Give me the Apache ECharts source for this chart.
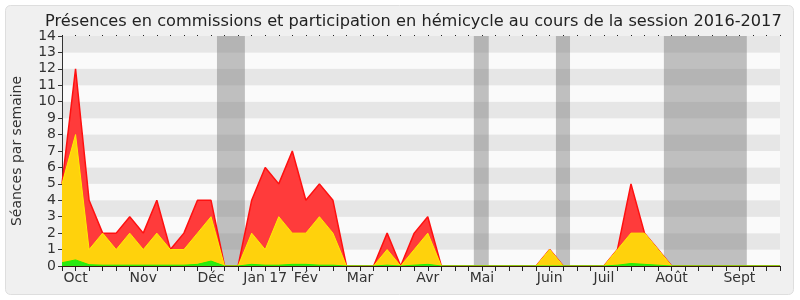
<!DOCTYPE html>
<html><head><meta charset="utf-8">
<script src="https://cdn.jsdelivr.net/npm/echarts@6/dist/echarts.min.js"></script>
<style>html,body{margin:0;padding:0;background:#fff}#c{width:800px;height:300px}</style>
</head><body><div id="c"></div>
<script>
// week index 0..53 (late Sept 2016 -> end Sept 2017)
const weeks = Array.from({length: 54}, (_, i) => i);
// cumulative levels
const totalTop = [5,12,4,2,2,3,2,4,1,2,4,4,0,0,4,6,5,7,4,5,4,0,0,0,2,0,2,3,0,0,0,0,0,0,0,0,1,0,0,0,0,1,5,2,1,0,0,0,0,0,0,0,0,0];
const yellowTop = [5,8,1,2,1,2,1,2,1,1,2,3,0,0,2,1,3,2,2,3,2,0,0,0,1,0,1,2,0,0,0,0,0,0,0,0,1,0,0,0,0,1,2,2,1,0,0,0,0,0,0,0,0,0];
const greenTop = [0.2,0.37,0.08,0.05,0.05,0.05,0.05,0.05,0.05,0.05,0.1,0.3,0,0,0.1,0.05,0.05,0.1,0.1,0.05,0.05,0,0,0,0.05,0,0.05,0.1,0,0,0,0,0,0,0,0,0,0,0,0,0,0.05,0.15,0.1,0.05,0,0,0,0,0,0,0,0,0];
// month tick labels at week positions
const monthPos = [1,6,11,15,18,22,27,31,36,40,45,50];
const monthNames = ['Oct','Nov','Déc','Jan 17','Fév','Mar','Avr','Mai','Juin','Juil','Août','Sept'];
// holiday bands (week positions)
const holidays = [[11.44,13.5],[30.4,31.5],[36.46,37.5],[44.43,50.55]];

const FONT = 'DejaVu Sans';
const chart = echarts.init(document.getElementById('c'), null, {renderer: 'canvas'});
const mk = (arr) => weeks.map(i => [i, arr[i]]);
chart.setOption({
  animation: false,
  backgroundColor: '#fff',
  graphic: [{type: 'rect', shape: {x: 5.5, y: 5.5, width: 788, height: 289, r: 5},
    style: {fill: '#f0f0f0', stroke: '#dedede', lineWidth: 1}, z: -10}],
  title: {text: 'Présences en commissions et participation en hémicycle au cours de la session 2016-2017',
    left: 40, top: 9,
    textStyle: {fontFamily: FONT, fontSize: 16.2, fontWeight: 'normal', color: '#222'}},
  grid: {left: 62, right: 20, top: 36, bottom: 34, containLabel: false},
  xAxis: [{
    type: 'value', min: 0, max: 53, interval: 1, z: 5,
    axisLine: {show: true, lineStyle: {color: '#3a1a10', width: 1}},
    axisTick: {show: true, length: 5, lineStyle: {color: '#222'}},
    axisLabel: {customValues: monthPos, fontFamily: FONT, fontSize: 14, color: '#333', margin: 5,
      formatter: v => { const k = monthPos.indexOf(v); return k >= 0 ? monthNames[k] : ''; }},
    splitLine: {show: false}
  }, {
    type: 'value', position: 'top', min: 0, max: 53, interval: 1,
    axisLine: {show: false},
    axisTick: {show: true, length: 1, lineStyle: {color: '#222'}},
    axisLabel: {show: false}, splitLine: {show: false}
  }],
  yAxis: {
    type: 'value', min: 0, max: 14, interval: 1,
    name: 'Séances par semaine', nameLocation: 'middle', nameGap: 38,
    nameTextStyle: {fontFamily: FONT, fontSize: 14, color: '#333'},
    axisLine: {show: true, lineStyle: {color: '#333'}},
    axisTick: {show: true, length: 4, lineStyle: {color: '#333'}},
    axisLabel: {fontFamily: FONT, fontSize: 14, color: '#333', margin: 6},
    splitLine: {show: false},
    splitArea: {show: true, areaStyle: {color: ['#fafafa', '#e6e6e6']}}
  },
  series: [{
    type: 'line', name: 'total', data: mk(totalTop), symbol: 'none', z: 2,
    lineStyle: {color: '#ff1010', width: 1.5}, areaStyle: {color: '#ff3b3b', opacity: 1},
    markArea: {silent: true, itemStyle: {color: 'rgba(120,120,120,0.45)'},
      data: holidays.map(h => [{xAxis: h[0]}, {xAxis: h[1]}])}
  }, {
    type: 'line', name: 'yellow', data: mk(yellowTop), symbol: 'none', z: 3,
    lineStyle: {color: '#ffee00', width: 1}, areaStyle: {color: '#ffd20c', opacity: 1}
  }, {
    type: 'line', name: 'green', data: mk(greenTop), symbol: 'none', z: 4,
    lineStyle: {color: '#22f000', width: 1}, areaStyle: {color: '#2bea12', opacity: 1}
  }]
});
</script></body></html>
